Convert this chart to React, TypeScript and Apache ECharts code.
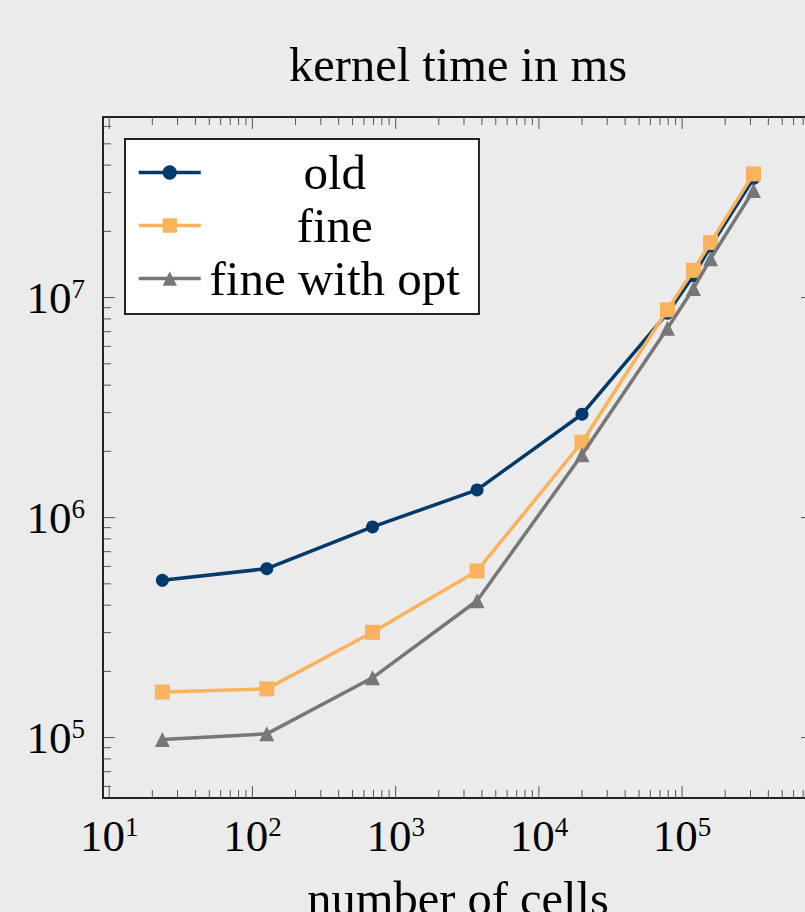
import React, { useEffect, useRef } from "react";
import * as echarts from "echarts";

// ---- data ----
const cells = [23.5, 126, 689, 3700, 20000, 79000, 120000, 158000, 315000];
const oldTimes = [5.19e5, 5.86e5, 9.07e5, 1.336e6, 2.95e6, 8.49e6, 1.26e7, 1.71e7, 3.48e7];
const fineTimes = [1.61e5, 1.665e5, 3.01e5, 5.72e5, 2.2e6, 8.8e6, 1.33e7, 1.78e7, 3.65e7];
const optTimes = [9.8e4, 1.04e5, 1.87e5, 4.19e5, 1.93e6, 7.26e6, 1.1e7, 1.5e7, 3.07e7];
const seriesNames = ["old", "fine", "fine with opt"];

// ---- axis structure ----
const xMin = 9.05;
const xMax = 8.2e5;
const yMin = 53150;
const yMax = 6.62e7;
const xDecades = [1, 10, 100, 1000, 10000, 100000];
const yDecades = [10000, 100000, 1000000, 10000000];
const minorMultipliers = [2, 3, 4, 5, 6, 7, 8, 9];
const xTitle = "number of cells";
const chartTitle = "kernel time in ms";

const FONT = "Liberation Serif";

function tickList(decades: number[], lo: number, hi: number) {
  const out: number[][] = [];
  decades.forEach((d) => {
    if (d >= lo && d <= hi) out.push([d, 1]);
    minorMultipliers.forEach((m) => {
      const v = d * m;
      if (v >= lo && v <= hi) out.push([v, 0]);
    });
  });
  return out;
}

const supLabel = (v: number) => {
  const e = Math.round(Math.log10(v));
  return `{b|10}{s|${e}}`;
};

const labelRich = {
  b: { fontSize: 45, fontFamily: FONT, color: "#000", lineHeight: 45 },
  s: { fontSize: 27, fontFamily: FONT, color: "#000", lineHeight: 27, verticalAlign: "top" },
};

export default function App() {
  const ref = useRef<HTMLDivElement>(null);
  useEffect(() => {
    if (!ref.current) return;
    const chart = echarts.init(ref.current, undefined, { renderer: "svg" });
    const tickStyle = { stroke: "#555", lineWidth: 1 };
    const MAJ = 12;
    const MIN = 8;
    const xTicks = tickList(xDecades, xMin, xMax).map((t) => [t[0], yMin, t[1]]);
    const yTicks = tickList(yDecades, yMin, yMax).map((t) => [xMin, t[0], t[1]]);

    const mkLine = (name: string, data: number[], color: string, symbol: string, size: number, z: number) => ({
      name,
      type: "line",
      data: cells.map((c, i) => [c, data[i]]),
      symbol,
      symbolSize: size,
      showAllSymbol: true,
      lineStyle: { color, width: 3.5 },
      itemStyle: { color },
      z,
    });

    chart.setOption({
      animation: false,
      backgroundColor: "#ebebeb",
      graphic: [
        {
          type: "text",
          x: 458,
          y: 64,
          style: {
            text: chartTitle,
            fontSize: 48.5,
            fontFamily: FONT,
            fill: "#000",
            align: "center",
            verticalAlign: "middle",
          },
        },
      ],
      grid: {
        left: 103,
        top: 117,
        right: -8,
        bottom: 114,
        outerBoundsMode: "none",
        containLabel: false,
        show: true,
        borderColor: "#222",
        borderWidth: 2,
        backgroundColor: "transparent",
      },
      legend: {
        data: seriesNames,
        orient: "vertical",
        left: 125,
        top: 139,
        padding: [9, 19, 11, 12],
        itemGap: 4,
        itemWidth: 62,
        itemHeight: 18,
        backgroundColor: "#fff",
        borderColor: "#222",
        borderWidth: 2,
        borderRadius: 0,
        lineStyle: { width: 3.5 },
        formatter: "{n|{name}}",
        textStyle: {
          fontSize: 49,
          fontFamily: FONT,
          color: "#000",
          rich: {
            n: { width: 258, align: "center", fontSize: 49, fontFamily: FONT, color: "#000" },
          },
        },
      },
      xAxis: {
        type: "log",
        min: xMin,
        max: xMax,
        name: xTitle,
        nameLocation: "middle",
        nameGap: 76,
        nameTextStyle: { fontSize: 48.5, fontFamily: FONT, color: "#000" },
        axisLine: { show: true, lineStyle: { color: "#222", width: 2 } },
        axisTick: { show: false },
        splitLine: { show: false },
        axisLabel: {
          margin: 15,
          showMinLabel: false,
          showMaxLabel: false,
          formatter: supLabel,
          rich: labelRich,
        },
      },
      yAxis: {
        type: "log",
        min: yMin,
        max: yMax,
        axisLine: { show: true, lineStyle: { color: "#222", width: 2 } },
        axisTick: { show: false },
        splitLine: { show: false },
        axisLabel: {
          margin: 18,
          showMinLabel: false,
          showMaxLabel: false,
          formatter: supLabel,
          rich: labelRich,
        },
      },
      series: [
        {
          type: "custom",
          name: "xticks",
          data: xTicks,
          encode: { x: 0, y: 1 },
          silent: true,
          z: 1,
          clip: true,
          renderItem: (params: any, api: any) => {
            const cs = params.coordSys;
            const x = api.coord([api.value(0), yMin])[0];
            const len = api.value(2) ? MAJ : MIN;
            const bottom = cs.y + cs.height;
            return {
              type: "group",
              children: [
                { type: "line", shape: { x1: x, y1: bottom, x2: x, y2: bottom - len }, style: tickStyle },
                { type: "line", shape: { x1: x, y1: cs.y, x2: x, y2: cs.y + len }, style: tickStyle },
              ],
            };
          },
        },
        {
          type: "custom",
          name: "yticks",
          data: yTicks,
          encode: { x: 0, y: 1 },
          silent: true,
          z: 1,
          clip: true,
          renderItem: (params: any, api: any) => {
            const cs = params.coordSys;
            const y = api.coord([xMin, api.value(1)])[1];
            const len = api.value(2) ? MAJ : MIN;
            const right = cs.x + cs.width;
            return {
              type: "group",
              children: [
                { type: "line", shape: { x1: cs.x, y1: y, x2: cs.x + len, y2: y }, style: tickStyle },
                { type: "line", shape: { x1: right, y1: y, x2: right - len, y2: y }, style: tickStyle },
              ],
            };
          },
        },
        mkLine(seriesNames[0], oldTimes, "#003a6b", "circle", 13, 3),
        mkLine(seriesNames[1], fineTimes, "#f9b35c", "rect", 15, 4),
        mkLine(seriesNames[2], optTimes, "#777777", "triangle", 15, 5),
      ],
    });
    return () => chart.dispose();
  }, []);
  return <div ref={ref} style={{ position: "fixed", left: 0, top: 0, width: 805, height: 912 }} />;
}
